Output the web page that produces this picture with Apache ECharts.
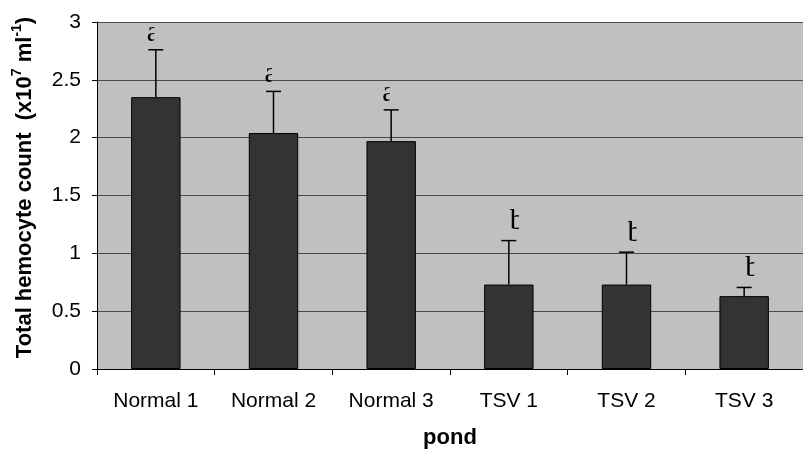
<!DOCTYPE html>
<html>
<head>
<meta charset="utf-8">
<script src="https://cdn.jsdelivr.net/npm/echarts@6/dist/echarts.min.js"></script>
<style>
  html, body { margin: 0; padding: 0; background: #ffffff; overflow: hidden; }
  #chart { width: 803px; height: 454px; }
</style>
</head>
<body>
<div id="chart"></div>
<script>
// Total hemocyte count per pond (mean + SD), with significance letters
const ponds = ['Normal 1', 'Normal 2', 'Normal 3', 'TSV 1', 'TSV 2', 'TSV 3'];
const meanCount = [2.35, 2.04, 1.97, 0.73, 0.73, 0.63];
const sdCount = [0.41, 0.36, 0.27, 0.38, 0.28, 0.075];
const groupLetters = ['a', 'a', 'a', 'b', 'b', 'b'];
const yTicks = [0, 0.5, 1, 1.5, 2, 2.5, 3];

const chart = echarts.init(document.getElementById('chart'), null, { renderer: 'canvas' });

const errorData = ponds.map((p, i) => [i, meanCount[i], meanCount[i] + sdCount[i], groupLetters[i]]);

// letters are shown as a narrow slice of the glyph (left part for "a", stem side for "b")
const letterCut = {
  a: { dx: -9, width: 7.5, dy: -2 },
  b: { dx: 1, width: 9, dy: -4 }
};

const option = {
  backgroundColor: '#ffffff',
  animation: false,
  grid: {
    left: 97, right: -8, top: 22, bottom: 83,
    show: true, backgroundColor: '#c0c0c0', borderWidth: 0
  },
  xAxis: {
    type: 'category',
    data: ponds,
    boundaryGap: true,
    name: 'pond',
    nameLocation: 'middle',
    nameGap: 58,
    nameTextStyle: { fontFamily: 'Liberation Sans', fontSize: 22, fontWeight: 'bold', color: '#000' },
    axisLine: { lineStyle: { color: '#000', width: 1 } },
    axisTick: { show: true, alignWithLabel: false, length: 6, lineStyle: { color: '#000' } },
    axisLabel: { fontFamily: 'Liberation Sans', fontSize: 21, color: '#000', margin: 22 }
  },
  yAxis: {
    type: 'value',
    min: yTicks[0],
    max: yTicks[yTicks.length - 1],
    interval: 0.5,
    name: '{t|Total hemocyte count  (x10}{s|7}{t| ml}{s|-1}{t|)}',
    nameLocation: 'middle',
    nameGap: 61,
    nameRotate: 90,
    nameTextStyle: {
      padding: [0, 0, 0, 16],
      rich: {
        t: { fontFamily: 'Liberation Sans', fontSize: 22, fontWeight: 'bold', color: '#000', verticalAlign: 'bottom', lineHeight: 26 },
        s: { fontFamily: 'Liberation Sans', fontSize: 14, fontWeight: 'bold', color: '#000', verticalAlign: 'top', lineHeight: 26 }
      }
    },
    axisLine: { show: true, lineStyle: { color: '#000', width: 1 } },
    axisTick: { show: true, inside: false, length: 5, lineStyle: { color: '#000' } },
    axisLabel: { fontFamily: 'Liberation Sans', fontSize: 21, color: '#000', margin: 16 },
    splitLine: { show: true, lineStyle: { color: '#4a4a4a', width: 1 } }
  },
  series: [
    {
      type: 'bar',
      data: meanCount,
      barWidth: '42%',
      itemStyle: { color: '#333333', borderColor: '#000000', borderWidth: 1 },
      z: 2
    },
    {
      type: 'custom',
      data: errorData,
      z: 3,
      renderItem: function (params, api) {
        const x = api.value(0);
        const base = api.coord([x, api.value(1)]);
        const top = api.coord([x, api.value(2)]);
        const half = 7.5;
        const letter = groupLetters[params.dataIndex];
        const cut = letterCut[letter];
        return {
          type: 'group',
          children: [
            { type: 'line', shape: { x1: base[0], y1: base[1], x2: top[0], y2: top[1] },
              style: { stroke: '#000', lineWidth: 1.5 } },
            { type: 'line', shape: { x1: top[0] - half, y1: top[1], x2: top[0] + half, y2: top[1] },
              style: { stroke: '#000', lineWidth: 1.5 } },
            { type: 'text', x: top[0] + cut.dx, y: top[1] + cut.dy,
              style: { text: letter, fill: '#000', font: '30px "Liberation Serif"',
                       align: 'left', verticalAlign: 'bottom' },
              clipPath: { type: 'rect', shape: { x: 0, y: -40, width: cut.width, height: 50 } } }
          ]
        };
      }
    }
  ]
};

chart.setOption(option);
</script>
</body>
</html>
